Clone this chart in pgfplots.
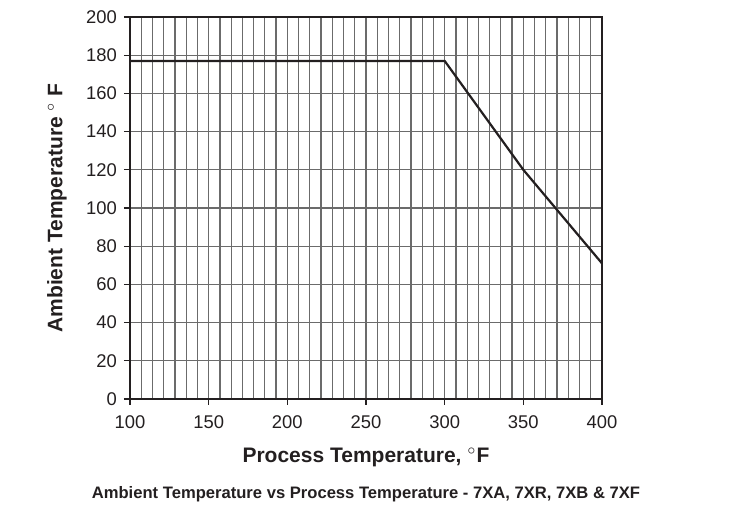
\documentclass[border=0pt]{standalone}
\usepackage{pgfplots}
\pgfplotsset{compat=1.18}
\usepackage{fontspec}
\setmainfont{Liberation Sans}
\definecolor{ink}{HTML}{231F20}

\begin{document}
\begin{tikzpicture}
\begin{axis}[
    name=ax,
    scale only axis,
    width=236pt,
    height=191pt,
    xmin=100, xmax=400,
    ymin=0, ymax=200,
    xtick={100,150,...,400},
    ytick={0,20,...,200},
    minor x tick num=6,
    grid=both,
    major grid style={black!58, line width=0.6pt},
    minor grid style={black!58, line width=0.6pt},
    axis line style={ink, line width=1pt},
    tick style={ink, line width=0.6pt},
    major tick length=3pt,
    minor tick length=0pt,
    tick align=outside,
    xtick pos=bottom,
    ytick pos=left,
    /pgf/number format/assume math mode=true,
    tick label style={font=\fontsize{9.2}{10}\selectfont, text=ink},
    xticklabel style={yshift=-2pt},
    label style={font=\bfseries\fontsize{10.5}{12}\selectfont, text=ink},
    xlabel={Process Temperature, $^{\circ}$F},
    ylabel={Ambient Temperature $^{\circ}$ F},
    xlabel style={at={(axis description cs:0.5,-0.165)}, anchor=base},
    ylabel style={at={(axis description cs:-0.155,0.5)}, anchor=center},
    clip=false,
]
\addplot[ink, line width=1.1pt] coordinates {
    (100,177) (300,177) (350,120) (400,71)
};
\node[anchor=base, font=\bfseries\fontsize{8.3}{10}\selectfont, text=ink]
    at (axis description cs:0.5,-0.26)
    {Ambient Temperature vs Process Temperature - 7XA, 7XR, 7XB \& 7XF};
\end{axis}
\path (ax.south west) ++(-65pt,-53.5pt) rectangle ([xshift=66pt,yshift=8.5pt]ax.north east);
\end{tikzpicture}
\end{document}
